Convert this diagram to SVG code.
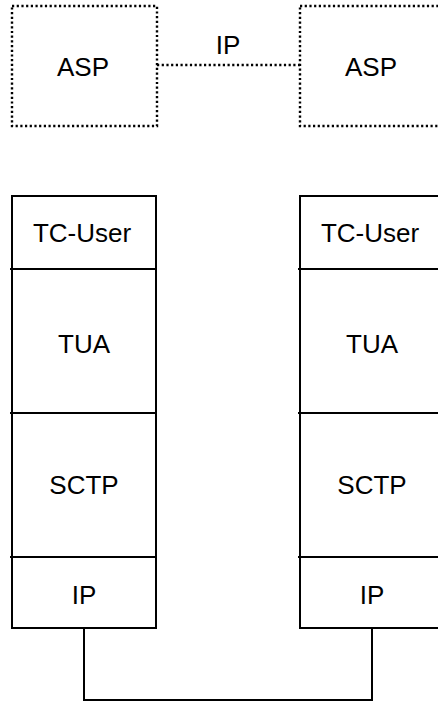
<svg xmlns="http://www.w3.org/2000/svg" width="438" height="702" viewBox="0 0 438 702">
  <style>
    .dot { fill: none; stroke: #000; stroke-width: 2.4; stroke-dasharray: 2.2 2.5; }
    .box { fill: none; stroke: #000; stroke-width: 2; }
    .ln { stroke: #000; stroke-width: 2; fill: none; }
    text { font-family: "Liberation Sans", Arial, sans-serif; font-size: 26px; fill: #000; text-anchor: middle; }
  </style>
  <rect width="438" height="702" fill="#fff"/>
  <g id="asp-left">
    <rect class="dot" x="12" y="6" width="145" height="120"/>
    <text x="83" y="76">ASP</text>
  </g>
  <g id="asp-right">
    <rect class="dot" x="300" y="6" width="145" height="120"/>
    <text x="371" y="76">ASP</text>
  </g>
  <g id="stack-left">
    <rect class="box" x="12" y="196" width="144" height="432"/>
    <line class="ln" x1="10" y1="269" x2="156" y2="269"/>
    <line class="ln" x1="10" y1="413" x2="156" y2="413"/>
    <line class="ln" x1="10" y1="557" x2="156" y2="557"/>
    <text x="82" y="242">TC-User</text>
    <text x="84" y="353">TUA</text>
    <text x="84" y="494">SCTP</text>
    <text x="84" y="604">IP</text>
  </g>
  <g id="stack-right">
    <rect class="box" x="300" y="196" width="144" height="432"/>
    <line class="ln" x1="298" y1="269" x2="444" y2="269"/>
    <line class="ln" x1="298" y1="413" x2="444" y2="413"/>
    <line class="ln" x1="298" y1="557" x2="444" y2="557"/>
    <text x="370" y="242">TC-User</text>
    <text x="372" y="353">TUA</text>
    <text x="372" y="494">SCTP</text>
    <text x="372" y="604">IP</text>
  </g>
  <g id="connectors">
    <line class="dot" x1="157" y1="65" x2="300" y2="65"/>
    <text x="228" y="54">IP</text>
    <polyline class="ln" points="84,628 84,700 372,700 372,628"/>
  </g>
</svg>
